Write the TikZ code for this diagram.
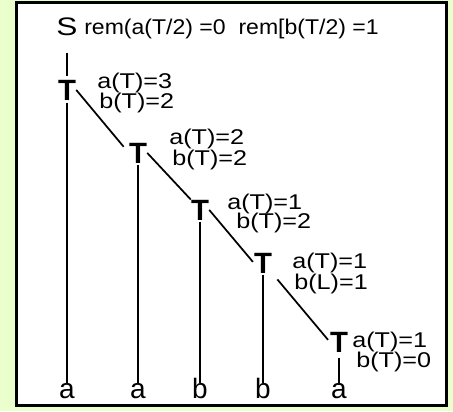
\documentclass[tikz,border=0pt]{standalone}
\usepackage{fontspec}
\setmainfont{Liberation Sans}
\definecolor{bggreen}{RGB}{235,255,205}

\begin{document}
\begin{tikzpicture}[x=0.75pt, y=-0.75pt,
    tnode/.style={font=\fontsize{22pt}{22pt}\selectfont\bfseries, inner sep=0pt, anchor=base},
    leaf/.style={font=\fontsize{21pt}{21pt}\selectfont, inner sep=0pt, anchor=base, text height=0.72em},
    lbl/.style={font=\fontsize{16pt}{16pt}\selectfont, inner sep=0pt, anchor=base west, xscale=1.18, transform shape},
    stem/.style={line width=1.8pt},
    slant/.style={line width=1.3pt}]
  \fill[bggreen] (0,0) rectangle (453,411);
  \draw[line width=2.25pt, fill=white] (16.5,2.5) rectangle (446.5,405);
  \useasboundingbox (0,0) rectangle (453,411);
  \node[font=\fontsize{19pt}{19pt}\selectfont, inner sep=0pt, anchor=base, xscale=1.25, transform shape] (s) at (67,35) {S};
  \node[font=\fontsize{16pt}{16pt}\selectfont, inner sep=0pt, anchor=base west, xscale=1.08, transform shape] (rem) at (84,34) {rem(a(T/2) =0\ \ rem[b(T/2) =1};
  \node[tnode] (t1) at (67,100) {T};
  \node[tnode] (t2) at (138,163) {T};
  \node[tnode] (t3) at (200,220) {T};
  \node[tnode] (t4) at (263,273) {T};
  \node[tnode] (t5) at (339,352) {T};
  \node[leaf] (l1) at (67,398) {a};
  \node[leaf] (l2) at (138,398) {a};
  \node[leaf] (l3) at (200,398) {b};
  \node[leaf] (l4) at (263,398) {b};
  \node[leaf] (l5) at (339,398) {a};
  \node[lbl] (a1) at (97,88) {a(T)=3};
  \node[lbl] (b1) at (99,108) {b(T)=2};
  \node[lbl] (a2) at (169,144) {a(T)=2};
  \node[lbl] (b2) at (172,165) {b(T)=2};
  \node[lbl] (a3) at (227,209) {a(T)=1};
  \node[lbl] (b3) at (236,228) {b(T)=2};
  \node[lbl] (a4) at (292,268) {a(T)=1};
  \node[lbl] (b4) at (294,289) {b(L)=1};
  \node[lbl] (a5) at (352,347) {a(T)=1};
  \node[lbl] (b5) at (356,367) {b(T)=0};
  \draw[stem, shorten <=13pt, shorten >=3pt] (s.south) -- (t1.north);
  \draw[stem, shorten <=2pt, shorten >=4pt] (t1.south) -- (l1.north);
  \draw[stem, shorten <=1pt, shorten >=4pt] (t2.south) -- (l2.north);
  \draw[stem, shorten <=1pt, shorten >=4pt] (t3.south) -- (l3.north);
  \draw[stem, shorten <=1pt, shorten >=4pt] (t4.south) -- (l4.north);
  \draw[stem, shorten <=4pt, shorten >=2pt] (t5.south) -- (l5.north);
  \draw[slant, shorten >=6pt] (t1.east) -- (t2.west);
  \draw[slant] (t2.east) -- (t3.north west);
  \draw[slant, shorten >=1pt] (t3.east) -- (t4.west);
  \draw[slant, shorten <=6pt, shorten >=2pt] (t4.south east) -- (t5.west);
\end{tikzpicture}
\end{document}
